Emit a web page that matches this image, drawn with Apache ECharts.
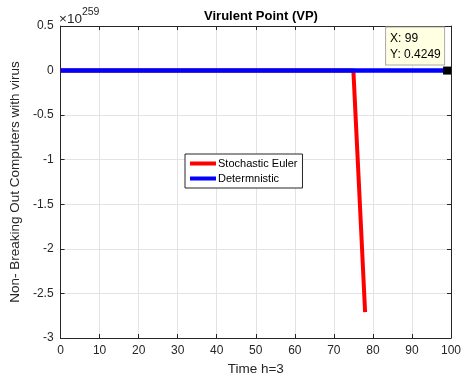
<!DOCTYPE html>
<html>
<head>
<meta charset="utf-8">
<script src="https://cdn.jsdelivr.net/npm/echarts@6/dist/echarts.min.js"></script>
<style>
  html, body { margin: 0; padding: 0; background: #fff; }
  #chart { width: 464px; height: 381px; }
</style>
</head>
<body>
<div id="chart"></div>
<script>
// Values as computed (raw units); the y axis is shown in units of 1e259.
const EXPONENT = 259;
const SCALE = Math.pow(10, EXPONENT);

const stochTime  = [0, 75, 76, 77, 78];
const stochValue = [0, 0, -0.9e259, -1.8e259, -2.71e259];

const detTime  = [0, 99];
const detValue = [0.5, 0.4249];

const xTicks = [0, 10, 20, 30, 40, 50, 60, 70, 80, 90, 100];
const yTicks = [0.5, 0, -0.5, -1, -1.5, -2, -2.5, -3];

const FONT = '"Liberation Sans", Arial, sans-serif';
const TXT = '#262626';

const toPairs = (t, v) => t.map((x, i) => [x, v[i] / SCALE]);

const lastT = detTime[detTime.length - 1];
const lastV = detValue[detValue.length - 1];

const chart = echarts.init(document.getElementById('chart'), null, { renderer: 'canvas' });

const baseX = {
  type: 'value', min: xTicks[0], max: xTicks[xTicks.length - 1], interval: 10,
  axisLine: { show: true, onZero: false, lineStyle: { color: TXT, width: 1 } },
  axisTick: { show: true, inside: true, length: 4, lineStyle: { color: TXT } }
};
const baseY = {
  type: 'value', min: yTicks[yTicks.length - 1], max: yTicks[0], interval: 0.5,
  axisLine: { show: true, onZero: false, lineStyle: { color: TXT, width: 1 } },
  axisTick: { show: true, inside: true, length: 4, lineStyle: { color: TXT } }
};

chart.setOption({
  animation: false,
  backgroundColor: '#fff',
  textStyle: { fontFamily: FONT },
  title: {
    text: 'Virulent Point (VP)',
    left: 256, top: 5, textAlign: 'center',
    textStyle: { fontFamily: FONT, fontSize: 13, fontWeight: 'bold', color: '#000' }
  },
  grid: { left: 59, top: 26, width: 395, height: 313, show: true, backgroundColor: '#fff', borderWidth: 0 },
  legend: {
    orient: 'vertical', left: 185, top: 154,
    backgroundColor: '#fff', borderColor: TXT, borderWidth: 1,
    padding: [4, 5, 4, 5], itemGap: 4,
    itemWidth: 26, itemHeight: 4, icon: 'rect',
    textStyle: { fontFamily: FONT, fontSize: 11, color: '#000', padding: [0, 0, 0, -3] },
    data: ['Stochastic Euler', 'Determnistic']
  },
  xAxis: [
    Object.assign({}, baseX, {
      position: 'bottom',
      name: 'Time h=3', nameLocation: 'middle', nameGap: 24,
      nameTextStyle: { fontFamily: FONT, fontSize: 13.5, color: TXT },
      axisLabel: { color: TXT, fontFamily: FONT, fontSize: 12, margin: 7 },
      splitLine: { show: true, lineStyle: { color: '#e3e3e3', width: 1 } }
    }),
    Object.assign({}, baseX, {
      position: 'top', axisLabel: { show: false }, splitLine: { show: false }
    })
  ],
  yAxis: [
    Object.assign({}, baseY, {
      position: 'left',
      name: 'Non- Breaking Out Computers with virus', nameLocation: 'middle', nameGap: 31,
      nameTextStyle: { fontFamily: FONT, fontSize: 13.5, color: TXT },
      axisLabel: { color: TXT, fontFamily: FONT, fontSize: 12, margin: 7,
        formatter: v => String(Math.round(v * 10) / 10) },
      splitLine: { show: true, lineStyle: { color: '#e3e3e3', width: 1 } }
    }),
    Object.assign({}, baseY, {
      position: 'right', axisLabel: { show: false }, splitLine: { show: false }
    })
  ],
  graphic: [{
    type: 'text', left: 59, top: 7,
    style: {
      text: '{a|\u00d710}{b|' + EXPONENT + '}',
      rich: {
        a: { fontFamily: FONT, fontSize: 13.5, fill: TXT, padding: [5, 0, 0, 0] },
        b: { fontFamily: FONT, fontSize: 10.5, fill: TXT, verticalAlign: 'top' }
      }
    }
  }],
  series: [
    {
      name: 'Stochastic Euler', type: 'line',
      data: toPairs(stochTime, stochValue),
      showSymbol: false, symbol: 'none',
      lineStyle: { color: '#ff0000', width: 4 },
      itemStyle: { color: '#ff0000' }
    },
    {
      name: 'Determnistic', type: 'line',
      data: toPairs(detTime, detValue),
      showSymbol: false, symbol: 'none',
      lineStyle: { color: '#0000ff', width: 4.6 },
      itemStyle: { color: '#0000ff' },
      markPoint: {
        symbol: 'rect', symbolSize: 8,
        itemStyle: { color: '#000' },
        data: [{ coord: [lastT, lastV / SCALE], value: lastV }],
        label: {
          show: true,
          position: [-57, -39],
          align: 'left', verticalAlign: 'top',
          formatter: () => 'X: ' + lastT + '\nY: ' + lastV,
          fontFamily: FONT, fontSize: 12, color: '#000', lineHeight: 16,
          backgroundColor: '#ffffe1', borderColor: '#aaa', borderWidth: 1,
          padding: [3, 6, 2, 4], width: 48
        }
      }
    }
  ]
});
</script>
</body>
</html>
